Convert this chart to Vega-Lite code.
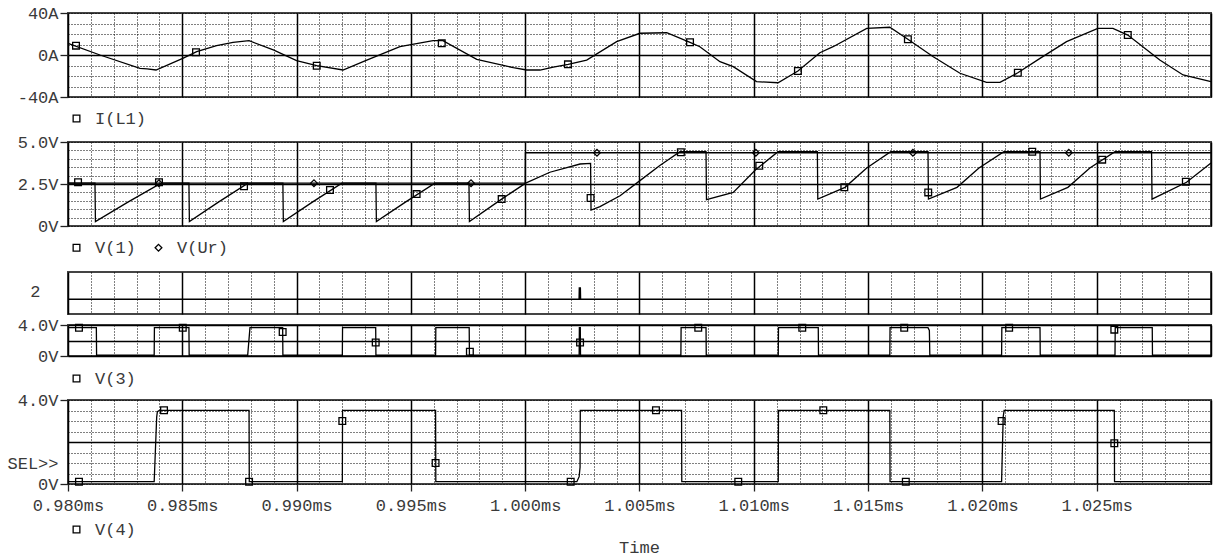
{
  "$schema": "https://vega.github.io/schema/vega-lite/v6.json",
  "padding": {"top": 3, "left": 5, "right": 1, "bottom": 0},
  "background": "white",
  "bounds": "flush",
  "spacing": 0,
  "resolve": {"scale": {"y": "independent", "shape": "independent"}, "legend": {"shape": "independent"}},
  "config": {
    "font": "Liberation Mono",
    "view": {"stroke": "#444", "strokeWidth": 2},
    "axis": {"labelFont": "Liberation Mono", "labelFontSize": 17, "labelColor": "#3a3a3a", "domain": false, "tickColor": "#222", "tickWidth": 1.3, "tickSize": 8, "labelPadding": 2, "gridColor": "#000"},
    "legend": {"orient": "bottom", "direction": "horizontal", "labelFont": "Liberation Mono", "labelFontSize": 17, "labelColor": "#3a3a3a", "symbolSize": 45, "symbolStrokeColor": "#000", "symbolStrokeWidth": 1.3, "labelOffset": 10, "columnPadding": 14, "offset": 10, "padding": 0},
    "title": {"font": "Liberation Mono", "fontSize": 17, "fontWeight": "normal", "color": "#3a3a3a"}
  },
  "datasets": {
    "il1": [
      {"t":0.98000,"v":11.1},{"t":0.98140,"v":0},{"t":0.98315,"v":-12.7},{"t":0.98346,"v":-13.3},{"t":0.98385,"v":-14.3},
      {"t":0.98502,"v":-3.2},{"t":0.98563,"v":3.2},{"t":0.98650,"v":9.0},{"t":0.98722,"v":12.1},{"t":0.98792,"v":13.6},
      {"t":0.98898,"v":4.8},{"t":0.99000,"v":-5.4},{"t":0.99088,"v":-10.2},{"t":0.99203,"v":-14.3},{"t":0.99307,"v":-4.8},
      {"t":0.99452,"v":7.9},{"t":0.99597,"v":13.6},{"t":0.99640,"v":13.6},{"t":0.99788,"v":-4.1},{"t":0.99948,"v":-12.1},
      {"t":1.00006,"v":-14.3},{"t":1.00065,"v":-14.3},{"t":1.00123,"v":-11.5},{"t":1.00188,"v":-8.9},{"t":1.00269,"v":-4.8},
      {"t":1.00400,"v":12.7},{"t":1.00502,"v":20.7},{"t":1.00619,"v":21.2},{"t":1.00721,"v":12.1},{"t":1.00764,"v":7.9},
      {"t":1.00852,"v":-6.4},{"t":1.00910,"v":-11.1},{"t":1.01012,"v":-25.4},{"t":1.01106,"v":-26.4},{"t":1.01193,"v":-15.2},
      {"t":1.01289,"v":2.2},{"t":1.01347,"v":7.9},{"t":1.01494,"v":25.4},{"t":1.01595,"v":26.4},{"t":1.01674,"v":15},
      {"t":1.01785,"v":-1.6},{"t":1.01902,"v":-17.4},{"t":1.02018,"v":-26},{"t":1.02077,"v":-26},{"t":1.02155,"v":-16.9},
      {"t":1.02252,"v":-3.2},{"t":1.02368,"v":12.7},{"t":1.02505,"v":25.4},{"t":1.02571,"v":25.4},{"t":1.02636,"v":19},
      {"t":1.02776,"v":-4.8},{"t":1.02878,"v":-19},{"t":1.03000,"v":-25.4}
    ],
    "mk1": [
      {"s":"I(L1)","t":0.98035,"v":8.9},{"s":"I(L1)","t":0.98560,"v":2.6},{"s":"I(L1)","t":0.99088,"v":-10.2},
      {"s":"I(L1)","t":0.99635,"v":11.1},{"s":"I(L1)","t":1.00187,"v":-8.9},{"s":"I(L1)","t":1.00721,"v":12.1},
      {"s":"I(L1)","t":1.01193,"v":-15.2},{"s":"I(L1)","t":1.01674,"v":15},{"s":"I(L1)","t":1.02155,"v":-16.9},
      {"s":"I(L1)","t":1.02636,"v":19}
    ],
    "v1": [
      {"t":0.98000,"v":2.55},{"t":0.98118,"v":2.55},{"t":0.98120,"v":0.26},{"t":0.98262,"v":1.42},{"t":0.98407,"v":2.55},
      {"t":0.98529,"v":2.55},{"t":0.98531,"v":0.26},{"t":0.98658,"v":1.42},{"t":0.98787,"v":2.55},
      {"t":0.98940,"v":2.55},{"t":0.98942,"v":0.26},{"t":0.99069,"v":1.42},{"t":0.99198,"v":2.55},
      {"t":0.99347,"v":2.55},{"t":0.99349,"v":0.26},{"t":0.99476,"v":1.42},{"t":0.99605,"v":2.55},
      {"t":0.99754,"v":2.55},{"t":0.99756,"v":0.26},{"t":0.99897,"v":1.6},{"t":1.00002,"v":2.55},{"t":1.00108,"v":3.2},
      {"t":1.00240,"v":3.69},{"t":1.00286,"v":3.73},{"t":1.00288,"v":0.95},{"t":1.00327,"v":1.15},{"t":1.00415,"v":1.8},
      {"t":1.00502,"v":2.7},{"t":1.00589,"v":3.6},{"t":1.00677,"v":4.42},{"t":1.00791,"v":4.42},{"t":1.00793,"v":1.57},
      {"t":1.00910,"v":2.0},{"t":1.01008,"v":3.35},{"t":1.01106,"v":4.42},{"t":1.01278,"v":4.42},{"t":1.01280,"v":1.6},
      {"t":1.01399,"v":2.3},{"t":1.01494,"v":3.45},{"t":1.01599,"v":4.42},{"t":1.01762,"v":4.42},{"t":1.01764,"v":1.6},
      {"t":1.01889,"v":2.3},{"t":1.01985,"v":3.45},{"t":1.02094,"v":4.42},{"t":1.02252,"v":4.42},{"t":1.02254,"v":1.6},
      {"t":1.02374,"v":2.3},{"t":1.02470,"v":3.45},{"t":1.02580,"v":4.42},{"t":1.02740,"v":4.42},{"t":1.02742,"v":1.6},
      {"t":1.02893,"v":2.6},{"t":1.03000,"v":3.75}
    ],
    "vur": [
      {"t":0.98000,"v":2.55},{"t":1.00000,"v":2.55},{"t":1.00001,"v":4.36},{"t":1.03000,"v":4.36}
    ],
    "mk2": [
      {"s":"V(1)","t":0.98044,"v":2.6},{"s":"V(1)","t":0.98398,"v":2.6},{"s":"V(1)","t":0.98770,"v":2.36},
      {"s":"V(1)","t":0.99146,"v":2.14},{"s":"V(1)","t":0.99525,"v":1.9},{"s":"V(1)","t":0.99897,"v":1.6},
      {"s":"V(1)","t":1.00286,"v":1.67},{"s":"V(1)","t":1.00681,"v":4.39},{"s":"V(1)","t":1.01024,"v":3.59},
      {"s":"V(1)","t":1.01396,"v":2.3},{"s":"V(1)","t":1.01763,"v":2.0},{"s":"V(1)","t":1.02218,"v":4.42},
      {"s":"V(1)","t":1.02524,"v":3.95},{"s":"V(1)","t":1.02890,"v":2.64},
      {"s":"V(Ur)","t":0.98398,"v":2.55},{"s":"V(Ur)","t":0.99076,"v":2.55},{"s":"V(Ur)","t":0.99763,"v":2.55},
      {"s":"V(Ur)","t":1.00314,"v":4.36},{"s":"V(Ur)","t":1.01009,"v":4.36},{"s":"V(Ur)","t":1.01696,"v":4.36},
      {"s":"V(Ur)","t":1.02378,"v":4.36}
    ],
    "dig": [
      {"t":0.98000,"v":0},{"t":1.00236,"v":0},{"t":1.00237,"v":1},{"t":1.00241,"v":1},{"t":1.00242,"v":0},{"t":1.03000,"v":0}
    ],
    "v3": [
      {"t":0.98000,"v":3.65},{"t":0.98124,"v":3.65},{"t":0.98125,"v":0.1},{"t":0.98377,"v":0.1},{"t":0.98378,"v":3.65},
      {"t":0.98529,"v":3.65},{"t":0.98530,"v":0.1},{"t":0.98786,"v":0.1},{"t":0.98796,"v":3.65},{"t":0.98939,"v":3.65},
      {"t":0.98940,"v":0.1},{"t":0.99200,"v":0.1},{"t":0.99201,"v":3.65},{"t":0.99346,"v":3.65},{"t":0.99347,"v":0.1},
      {"t":0.99608,"v":0.1},{"t":0.99609,"v":3.65},{"t":0.99755,"v":3.65},{"t":0.99756,"v":0.1},{"t":1.00236,"v":0.1},
      {"t":1.00237,"v":3.65},{"t":1.00241,"v":3.65},{"t":1.00242,"v":0.1},{"t":1.00681,"v":0.1},{"t":1.00682,"v":3.65},
      {"t":1.00791,"v":3.65},{"t":1.00792,"v":0.1},{"t":1.01107,"v":0.1},{"t":1.01108,"v":3.65},{"t":1.01282,"v":3.65},
      {"t":1.01283,"v":0.1},{"t":1.01595,"v":0.1},{"t":1.01596,"v":3.65},{"t":1.01762,"v":3.65},{"t":1.01768,"v":3.3},
      {"t":1.01770,"v":0.1},{"t":1.02084,"v":0.1},{"t":1.02085,"v":3.65},{"t":1.02252,"v":3.65},{"t":1.02253,"v":0.1},
      {"t":1.02580,"v":0.1},{"t":1.02581,"v":3.65},{"t":1.02743,"v":3.65},{"t":1.02744,"v":0.1},{"t":1.03000,"v":0.1}
    ],
    "mk3": [
      {"s":"V(3)","t":0.98048,"v":3.65},{"s":"V(3)","t":0.98502,"v":3.65},{"s":"V(3)","t":0.98939,"v":3.1},
      {"s":"V(3)","t":0.99346,"v":1.75},{"s":"V(3)","t":0.99758,"v":0.55},{"s":"V(3)","t":1.00240,"v":1.75},
      {"s":"V(3)","t":1.00757,"v":3.65},{"s":"V(3)","t":1.01212,"v":3.65},{"s":"V(3)","t":1.01658,"v":3.65},
      {"s":"V(3)","t":1.02117,"v":3.65},{"s":"V(3)","t":1.02577,"v":3.4}
    ],
    "v4": [
      {"t":0.98000,"v":0.11},{"t":0.98377,"v":0.11},{"t":0.98388,"v":3.2},{"t":0.98391,"v":3.45},{"t":0.98400,"v":3.51},
      {"t":0.98792,"v":3.51},{"t":0.98793,"v":0.11},{"t":0.99200,"v":0.11},{"t":0.99201,"v":3.51},{"t":0.99608,"v":3.51},
      {"t":0.99609,"v":0.11},{"t":1.00226,"v":0.11},{"t":1.00236,"v":0.35},{"t":1.00240,"v":0.8},{"t":1.00241,"v":3.51},
      {"t":1.00684,"v":3.51},{"t":1.00685,"v":0.11},{"t":1.01107,"v":0.11},{"t":1.01108,"v":3.51},{"t":1.01595,"v":3.51},
      {"t":1.01596,"v":0.11},{"t":1.02084,"v":0.11},{"t":1.02091,"v":3.2},{"t":1.02095,"v":3.51},{"t":1.02577,"v":3.51},
      {"t":1.02578,"v":0.11},{"t":1.03000,"v":0.11}
    ],
    "mk4": [
      {"s":"V(4)","t":0.98048,"v":0.11},{"s":"V(4)","t":0.98420,"v":3.51},{"s":"V(4)","t":0.98792,"v":0.11},
      {"s":"V(4)","t":0.99200,"v":3.0},{"s":"V(4)","t":0.99608,"v":1.0},{"s":"V(4)","t":1.00199,"v":0.11},
      {"s":"V(4)","t":1.00572,"v":3.51},{"s":"V(4)","t":1.00932,"v":0.11},{"s":"V(4)","t":1.01304,"v":3.51},
      {"s":"V(4)","t":1.01665,"v":0.11},{"s":"V(4)","t":1.02084,"v":3.0},{"s":"V(4)","t":1.02577,"v":1.94}
    ],
    "blank": [{"a": 1}]
  },
  "vconcat": [
    {
      "width": 1143, "height": 84,
      "encoding": {
        "x": {"field": "t", "type": "quantitative", "scale": {"domain": [0.98, 1.03], "nice": false, "zero": false},
          "axis": {"title": null, "values": [0.98,0.981,0.982,0.983,0.984,0.985,0.986,0.987,0.988,0.989,0.99,0.991,0.992,0.993,0.994,0.995,0.996,0.997,0.998,0.999,1,1.001,1.002,1.003,1.004,1.005,1.006,1.007,1.008,1.009,1.01,1.011,1.012,1.013,1.014,1.015,1.016,1.017,1.018,1.019,1.02,1.021,1.022,1.023,1.024,1.025,1.026,1.027,1.028,1.029,1.03],
            "labels": false, "ticks": false, "grid": true,
            "gridDash": {"condition": {"test": "round(datum.value*1000) % 5 == 0", "value": []}, "value": [1, 2]},
            "gridWidth": {"condition": {"test": "round(datum.value*1000) % 5 == 0", "value": 1.5}, "value": 1}}},
        "y": {"field": "v", "type": "quantitative", "scale": {"domain": [-40, 40], "nice": false, "zero": false},
          "axis": {"title": null, "values": [-40,-30,-20,-10,0,10,20,30,40],
            "labelExpr": "datum.value == 40 ? '40A' : datum.value == 0 ? '0A' : datum.value == -40 ? '-40A' : ''",
            "tickOpacity": {"condition": {"test": "datum.value == 40 || datum.value == 0 || datum.value == -40", "value": 1}, "value": 0},
            "grid": true,
            "gridDash": {"condition": {"test": "datum.value == 0", "value": []}, "value": [1, 2]},
            "gridWidth": {"condition": {"test": "datum.value == 0", "value": 1.5}, "value": 1}}}
      },
      "layer": [
        {"data": {"name": "il1"}, "mark": {"type": "line", "color": "#000", "strokeWidth": 1.3}},
        {"data": {"name": "mk1"}, "mark": {"type": "point", "filled": false, "color": "#000", "size": 45, "strokeWidth": 1.3, "opacity": 1},
          "encoding": {"shape": {"field": "s", "type": "nominal", "scale": {"domain": ["I(L1)"], "range": ["square"]}, "legend": {"title": null, "offset": 13}}}}
      ]
    },
    {"width": 1143, "height": 45, "view": {"stroke": null}, "data": {"name": "blank"}, "mark": {"type": "text", "text": ""}, "encoding": {}},
    {
      "width": 1143, "height": 84,
      "encoding": {
        "x": {"field": "t", "type": "quantitative", "scale": {"domain": [0.98, 1.03], "nice": false, "zero": false},
          "axis": {"title": null, "values": [0.98,0.981,0.982,0.983,0.984,0.985,0.986,0.987,0.988,0.989,0.99,0.991,0.992,0.993,0.994,0.995,0.996,0.997,0.998,0.999,1,1.001,1.002,1.003,1.004,1.005,1.006,1.007,1.008,1.009,1.01,1.011,1.012,1.013,1.014,1.015,1.016,1.017,1.018,1.019,1.02,1.021,1.022,1.023,1.024,1.025,1.026,1.027,1.028,1.029,1.03],
            "labels": false, "ticks": false, "grid": true,
            "gridDash": {"condition": {"test": "round(datum.value*1000) % 5 == 0", "value": []}, "value": [1, 2]},
            "gridWidth": {"condition": {"test": "round(datum.value*1000) % 5 == 0", "value": 1.5}, "value": 1}}},
        "y": {"field": "v", "type": "quantitative", "scale": {"domain": [0, 5], "nice": false, "zero": false},
          "axis": {"title": null, "values": [0,0.5,1,1.5,2,2.5,3,3.5,4,4.5,5],
            "labelExpr": "datum.value == 5 ? '5.0V' : datum.value == 2.5 ? '2.5V' : datum.value == 0 ? '0V' : ''",
            "tickOpacity": {"condition": {"test": "datum.value == 5 || datum.value == 2.5 || datum.value == 0", "value": 1}, "value": 0},
            "grid": true,
            "gridDash": {"condition": {"test": "datum.value == 2.5", "value": []}, "value": [1, 2]},
            "gridWidth": {"condition": {"test": "datum.value == 2.5", "value": 1.5}, "value": 1}}}
      },
      "layer": [
        {"data": {"name": "vur"}, "mark": {"type": "line", "color": "#000", "strokeWidth": 1.3}},
        {"data": {"name": "v1"}, "mark": {"type": "line", "color": "#000", "strokeWidth": 1.3}},
        {"data": {"name": "mk2"}, "mark": {"type": "point", "filled": false, "color": "#000", "size": 45, "strokeWidth": 1.3, "opacity": 1},
          "encoding": {"shape": {"field": "s", "type": "nominal", "scale": {"domain": ["V(1)", "V(Ur)"], "range": ["square", "diamond"]}, "legend": {"title": null, "offset": 13}}}}
      ]
    },
    {"width": 1143, "height": 46, "view": {"stroke": null}, "data": {"name": "blank"}, "mark": {"type": "text", "text": ""}, "encoding": {}},
    {
      "width": 1143, "height": 42,
      "data": {"name": "dig"},
      "mark": {"type": "line", "color": "#000", "strokeWidth": 1.5},
      "encoding": {
        "x": {"field": "t", "type": "quantitative", "scale": {"domain": [0.98, 1.03], "nice": false, "zero": false},
          "axis": {"title": null, "values": [0.98,0.981,0.982,0.983,0.984,0.985,0.986,0.987,0.988,0.989,0.99,0.991,0.992,0.993,0.994,0.995,0.996,0.997,0.998,0.999,1,1.001,1.002,1.003,1.004,1.005,1.006,1.007,1.008,1.009,1.01,1.011,1.012,1.013,1.014,1.015,1.016,1.017,1.018,1.019,1.02,1.021,1.022,1.023,1.024,1.025,1.026,1.027,1.028,1.029,1.03],
            "labels": false, "ticks": false, "grid": true,
            "gridDash": {"condition": {"test": "round(datum.value*1000) % 5 == 0", "value": []}, "value": [1, 2]},
            "gridWidth": {"condition": {"test": "round(datum.value*1000) % 5 == 0", "value": 1.5}, "value": 1}}},
        "y": {"field": "v", "type": "quantitative", "scale": {"domain": [-1.3, 2.4], "nice": false, "zero": false},
          "axis": {"title": null, "values": [0.65], "labelExpr": "'2'", "ticks": false, "grid": false, "labelPadding": 28}}
      }
    },
    {"width": 1143, "height": 11, "view": {"stroke": null}, "data": {"name": "blank"}, "mark": {"type": "text", "text": ""}, "encoding": {}},
    {
      "width": 1143, "height": 31,
      "encoding": {
        "x": {"field": "t", "type": "quantitative", "scale": {"domain": [0.98, 1.03], "nice": false, "zero": false},
          "axis": {"title": null, "values": [0.98,0.981,0.982,0.983,0.984,0.985,0.986,0.987,0.988,0.989,0.99,0.991,0.992,0.993,0.994,0.995,0.996,0.997,0.998,0.999,1,1.001,1.002,1.003,1.004,1.005,1.006,1.007,1.008,1.009,1.01,1.011,1.012,1.013,1.014,1.015,1.016,1.017,1.018,1.019,1.02,1.021,1.022,1.023,1.024,1.025,1.026,1.027,1.028,1.029,1.03],
            "labels": false, "ticks": false, "grid": true,
            "gridDash": {"condition": {"test": "round(datum.value*1000) % 5 == 0", "value": []}, "value": [1, 2]},
            "gridWidth": {"condition": {"test": "round(datum.value*1000) % 5 == 0", "value": 1.5}, "value": 1}}},
        "y": {"field": "v", "type": "quantitative", "scale": {"domain": [0, 4], "nice": false, "zero": false},
          "axis": {"title": null, "values": [0, 2, 4],
            "labelExpr": "datum.value == 4 ? '4.0V' : datum.value == 0 ? '0V' : ''",
            "tickOpacity": {"condition": {"test": "datum.value == 4 || datum.value == 0", "value": 1}, "value": 0},
            "grid": true, "gridWidth": 1.5}}
      },
      "layer": [
        {"data": {"name": "v3"}, "mark": {"type": "line", "color": "#000", "strokeWidth": 1.3}},
        {"data": {"name": "mk3"}, "mark": {"type": "point", "filled": false, "color": "#000", "size": 45, "strokeWidth": 1.3, "opacity": 1},
          "encoding": {"shape": {"field": "s", "type": "nominal", "scale": {"domain": ["V(3)"], "range": ["square"]}, "legend": {"title": null, "offset": 14}}}}
      ]
    },
    {"width": 1143, "height": 44, "view": {"stroke": null}, "data": {"name": "blank"}, "mark": {"type": "text", "text": ""}, "encoding": {}},
    {
      "width": 1143, "height": 84,
      "title": {"text": "Time", "orient": "bottom", "anchor": "middle", "offset": 2},
      "encoding": {
        "x": {"field": "t", "type": "quantitative", "scale": {"domain": [0.98, 1.03], "nice": false, "zero": false},
          "axis": {"title": null, "values": [0.98,0.981,0.982,0.983,0.984,0.985,0.986,0.987,0.988,0.989,0.99,0.991,0.992,0.993,0.994,0.995,0.996,0.997,0.998,0.999,1,1.001,1.002,1.003,1.004,1.005,1.006,1.007,1.008,1.009,1.01,1.011,1.012,1.013,1.014,1.015,1.016,1.017,1.018,1.019,1.02,1.021,1.022,1.023,1.024,1.025,1.026,1.027,1.028,1.029,1.03],
            "labelExpr": "round(datum.value*1000) % 5 == 0 && datum.value < 1.029 ? format(datum.value, '.3f') + 'ms' : ''",
            "labelFlush": false, "labelOverlap": false, "tickSize": 7, "labelPadding": 6,
            "tickOpacity": {"condition": {"test": "round(datum.value*1000) % 5 == 0 && datum.value < 1.029", "value": 1}, "value": 0},
            "grid": true,
            "gridDash": {"condition": {"test": "round(datum.value*1000) % 5 == 0", "value": []}, "value": [1, 2]},
            "gridWidth": {"condition": {"test": "round(datum.value*1000) % 5 == 0", "value": 1.5}, "value": 1}}},
        "y": {"field": "v", "type": "quantitative", "scale": {"domain": [0, 4], "nice": false, "zero": false},
          "axis": {"title": null, "values": [0,0.5,1,1.5,2,2.5,3,3.5,4],
            "labelExpr": "datum.value == 4 ? '4.0V' : datum.value == 1 ? 'SEL>>' : datum.value == 0 ? '0V' : ''",
            "tickOpacity": {"condition": {"test": "datum.value == 4 || datum.value == 0", "value": 1}, "value": 0},
            "grid": true,
            "gridDash": {"condition": {"test": "datum.value == 2", "value": []}, "value": [1, 2]},
            "gridWidth": {"condition": {"test": "datum.value == 2", "value": 1.5}, "value": 1}}}
      },
      "layer": [
        {"data": {"name": "v4"}, "mark": {"type": "line", "color": "#000", "strokeWidth": 1.3}},
        {"data": {"name": "mk4"}, "mark": {"type": "point", "filled": false, "color": "#000", "size": 45, "strokeWidth": 1.3, "opacity": 1},
          "encoding": {"shape": {"field": "s", "type": "nominal", "scale": {"domain": ["V(4)"], "range": ["square"]}, "legend": {"title": null, "offset": 8}}}}
      ]
    }
  ]
}
